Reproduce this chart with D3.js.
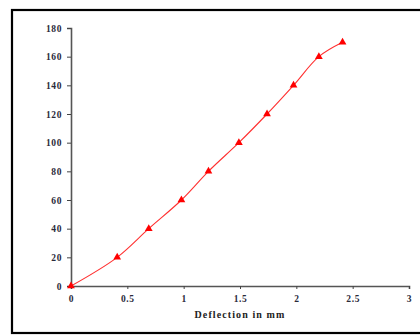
<!DOCTYPE html>
<html><head><meta charset="utf-8">
<script src="https://cdn.jsdelivr.net/npm/d3@7"></script>
<style>body{margin:0;background:#fff}svg{display:block}</style>
</head><body>
<script>
const deflection = [0, 0.41, 0.69, 0.98, 1.22, 1.49, 1.74, 1.975, 2.2, 2.41];
const load = [0, 20, 40, 60, 80, 100, 120, 140, 160, 170];
const xTicks = [0, 0.5, 1, 1.5, 2, 2.5, 3];
const yTicks = [0, 20, 40, 60, 80, 100, 120, 140, 160, 180];
const xTitle = "Deflection in mm";

const W = 420, H = 335;
const svg = d3.select("body").append("svg").attr("width", W).attr("height", H);

// frame
svg.append("rect").attr("x", 12).attr("y", 10).attr("width", 420).attr("height", 323)
  .attr("fill", "none").attr("stroke", "#000").attr("stroke-width", 2.2);

const x = d3.scaleLinear().domain([0, 3]).range([71, 409]);
const y = d3.scaleLinear().domain([0, 180]).range([286, 28]);

const font = "'Liberation Serif', 'DejaVu Serif', serif";

const ya = svg.append("g").attr("transform", "translate(71,0)")
  .call(d3.axisLeft(y).tickValues(yTicks).tickSize(4).tickPadding(5).tickFormat(d3.format("d")));
const xa = svg.append("g").attr("transform", "translate(0,286)")
  .call(d3.axisBottom(x).tickValues(xTicks).tickSize(3).tickPadding(6).tickFormat(d => String(d)));
[ya, xa].forEach(g => {
  g.select(".domain").attr("stroke", "#555").attr("stroke-width", 1.6);
  g.selectAll(".tick line").attr("stroke", "#444").attr("stroke-width", 1);
  g.selectAll("text").attr("font-family", font).attr("font-size", 9.5).attr("font-weight", "bold")
    .attr("letter-spacing", 0.6).attr("fill", "#2a2a3a");
});

svg.append("text").attr("x", 240).attr("y", 318).attr("text-anchor", "middle")
  .attr("font-family", font).attr("font-size", 10).attr("font-weight", "bold")
  .attr("letter-spacing", 1.1).attr("fill", "#222").text(xTitle);

const pts = deflection.map((d, i) => [d, load[i]]);
svg.append("path").datum(pts)
  .attr("d", d3.line().x(d => x(d[0])).y(d => y(d[1])).curve(d3.curveCatmullRom.alpha(0.5)))
  .attr("fill", "none").attr("stroke", "#ff3030").attr("stroke-width", 1.1);

svg.selectAll(".m").data(pts).join("path").attr("class", "m")
  .attr("transform", d => `translate(${x(d[0])},${y(d[1])})`)
  .attr("d", d3.symbol(d3.symbolTriangle, 26))
  .attr("fill", "#ff0000");
</script>
</body></html>
